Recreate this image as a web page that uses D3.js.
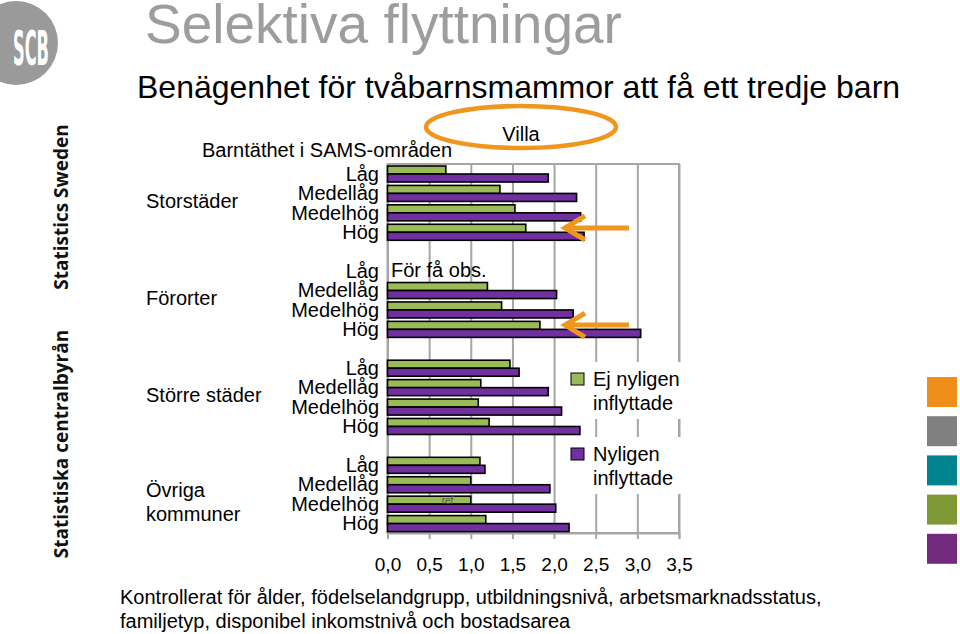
<!DOCTYPE html>
<html lang="sv">
<head>
<meta charset="UTF-8">
<title>Selektiva flyttningar</title>
<script src="https://d3js.org/d3.v7.min.js"></script>
<style>
  body { margin: 0; background: #fff; }
  svg { display: block; font-family: "Liberation Sans", Arial, sans-serif; }
  .lbl { font-size: 20px; fill: #000; }
  .side { font-family: "Open Sans", "Noto Sans", sans-serif; font-weight: bold; font-size: 19px; fill: #111; }
  .grid line { stroke: #a6a6a6; stroke-width: 2; }
  .grid .domain { display: none; }
  .xaxis .domain, .xaxis line { stroke: #a6a6a6; stroke-width: 2; }
  .xaxis text { font-size: 19px; fill: #000; font-family: "Liberation Sans", Arial, sans-serif; }
</style>
</head>
<body>
<svg width="960" height="634"></svg>
<script>
// data
const groups = ["Storstäder", "Förorter", "Större städer", "Övriga kommuner"];
const levels = ["Låg", "Medellåg", "Medelhög", "Hög"];
// Ej nyligen inflyttade (null = för få obs.)
const ejNyligen = [
  [0.70, 1.35, 1.53, 1.66],
  [null, 1.20, 1.37, 1.83],
  [1.47, 1.12, 1.09, 1.22],
  [1.11, 1.00, 1.00, 1.18]
];
// Nyligen inflyttade
const nyligen = [
  [1.93, 2.27, 2.32, 2.36],
  [null, 2.03, 2.23, 3.04],
  [1.58, 1.93, 2.09, 2.31],
  [1.17, 1.95, 2.02, 2.18]
];
const xTicks = [0, 0.5, 1, 1.5, 2, 2.5, 3, 3.5];
const seriesNames = [["Ej nyligen", "inflyttade"], ["Nyligen", "inflyttade"]];
const colors = ["#9bbb59", "#7030a0"];
const sideColors = ["#ee8f1c", "#808080", "#00838f", "#7f9a35", "#722b7f"];

const svg = d3.select("svg");
const plotL = 387.5, plotR = 679, plotT = 164, plotB = 533;

// rows: 4 levels per group with an empty row between groups
const rowKeys = [];
groups.forEach((g, gi) => {
  levels.forEach(l => rowKeys.push(g + "|" + l));
  if (gi < groups.length - 1) rowKeys.push("gap" + gi);
});

const x = d3.scaleLinear().domain([0, 3.5]).range([plotL, plotR]);
const y = d3.scaleBand().domain(rowKeys).range([plotT, plotB]);
const bw = y.bandwidth();

// header
svg.append("text").attr("x", 145).attr("y", 43)
  .attr("font-size", 55).attr("fill", "#9d9d9d").text("Selektiva flyttningar");
svg.append("text").attr("x", 137).attr("y", 98)
  .attr("font-size", 32).attr("fill", "#000").text("Benägenhet för tvåbarnsmammor att få ett tredje barn");

// logo
svg.append("circle").attr("cx", 16).attr("cy", 43).attr("r", 42).attr("fill", "#9a9a9a");
svg.append("text").attr("transform", "translate(31,65) scale(1,2.7)")
  .attr("text-anchor", "middle").attr("font-family", "DejaVu Sans Condensed, sans-serif")
  .attr("font-weight", "bold").attr("font-size", 18).attr("fill", "#fff").text("SCB");

// side texts
svg.append("text").attr("class", "side").attr("transform", "translate(68,207) rotate(-90)")
  .attr("text-anchor", "middle").text("Statistics Sweden");
svg.append("text").attr("class", "side").attr("transform", "translate(68,444) rotate(-90)")
  .attr("text-anchor", "middle").text("Statistiska centralbyrån");

// side squares
svg.selectAll("rect.sq").data(sideColors).join("rect").attr("class", "sq")
  .attr("x", 927).attr("y", (d, i) => 377 + i * 39.2)
  .attr("width", 30).attr("height", 30).attr("fill", d => d);

// grid + frame
svg.append("g").attr("class", "grid").attr("transform", `translate(0,${plotB})`)
  .call(d3.axisBottom(x).tickValues(xTicks).tickSize(-(plotB - plotT)).tickFormat(""));
svg.append("rect").attr("x", plotL).attr("y", plotT).attr("width", plotR - plotL).attr("height", plotB - plotT)
  .attr("fill", "none").attr("stroke", "#a6a6a6").attr("stroke-width", 2);
svg.append("g").attr("class", "xaxis").attr("transform", `translate(0,${plotB})`)
  .call(d3.axisBottom(x).tickValues(xTicks).tickSize(6).tickPadding(19)
    .tickFormat(d => d3.format(".1f")(d).replace(".", ",")));

// bars
const bars = [];
groups.forEach((g, gi) => levels.forEach((l, li) => {
  [ejNyligen, nyligen].forEach((s, si) => {
    if (s[gi][li] != null) bars.push({ key: g + "|" + l, s: si, v: s[gi][li] });
  });
}));
svg.selectAll("rect.bar").data(bars).join("rect").attr("class", "bar")
  .attr("x", x(0))
  .attr("y", d => y(d.key) + 2 + d.s * (bw / 2 - 1.7))
  .attr("width", d => x(d.v) - x(0))
  .attr("height", bw / 2 - 1.7)
  .attr("fill", d => colors[d.s]).attr("stroke", "#000").attr("stroke-width", 1.6);

// ref label
svg.append("text").attr("x", x(0.72)).attr("y", y("Övriga kommuner|Medelhög") + 2 + (bw / 2 - 1.7) / 2 + 3.5)
  .attr("text-anchor", "middle").attr("font-size", 10).attr("fill", "#555").text("ref");

// För få obs.
svg.append("text").attr("class", "lbl").attr("x", 391).attr("y", y("Förorter|Låg") + bw / 2 + 6).text("För få obs.");

// row labels
svg.append("text").attr("class", "lbl").attr("x", 202).attr("y", 157).text("Barntäthet i SAMS-områden");
groups.forEach(g => levels.forEach(l => {
  svg.append("text").attr("class", "lbl").attr("x", 379).attr("y", y(g + "|" + l) + bw / 2 + 7)
    .attr("text-anchor", "end").text(l);
}));
groups.forEach((g, gi) => {
  const cy = (y(g + "|" + levels[1]) + y(g + "|" + levels[2])) / 2 + bw / 2;
  const parts = g === "Övriga kommuner" ? ["Övriga", "kommuner"] : [g];
  parts.forEach((p, pi) => {
    svg.append("text").attr("class", "lbl").attr("x", 146)
      .attr("y", cy + 5 + (pi - (parts.length - 1) / 2) * 24 + (parts.length > 1 ? 10 : 0)).text(p);
  });
});

// legend
seriesNames.forEach((n, i) => {
  const ly = 362 + i * 75;
  svg.append("rect").attr("x", 564).attr("y", ly).attr("width", 130).attr("height", 57).attr("fill", "#fff");
  svg.append("rect").attr("x", 571).attr("y", ly + 11).attr("width", 13).attr("height", 12)
    .attr("fill", colors[i]).attr("stroke", "#000").attr("stroke-width", 1);
  n.forEach((t, ti) => svg.append("text").attr("class", "lbl").attr("x", 593).attr("y", ly + 24 + ti * 24).text(t));
});

// Villa + orange marks
svg.append("ellipse").attr("cx", 521).attr("cy", 127).attr("rx", 95).attr("ry", 21)
  .attr("fill", "none").attr("stroke", "#f0961e").attr("stroke-width", 4.5);
svg.append("text").attr("class", "lbl").attr("x", 521).attr("y", 141).attr("text-anchor", "middle").text("Villa");
["Storstäder|Hög", "Förorter|Hög"].forEach(k => {
  const ay = y(k) + bw / 2 - 4;
  svg.append("path").attr("d", `M629,${ay}H565M585,${ay - 12}L565,${ay}L585,${ay + 12}`)
    .attr("fill", "none").attr("stroke", "#f0961e").attr("stroke-width", 5);
});

// footnote
svg.append("text").attr("class", "lbl").attr("x", 120).attr("y", 604)
  .text("Kontrollerat för ålder, födelselandgrupp, utbildningsnivå, arbetsmarknadsstatus,");
svg.append("text").attr("class", "lbl").attr("x", 120).attr("y", 628)
  .text("familjetyp, disponibel inkomstnivå och bostadsarea");
</script>
</body>
</html>
